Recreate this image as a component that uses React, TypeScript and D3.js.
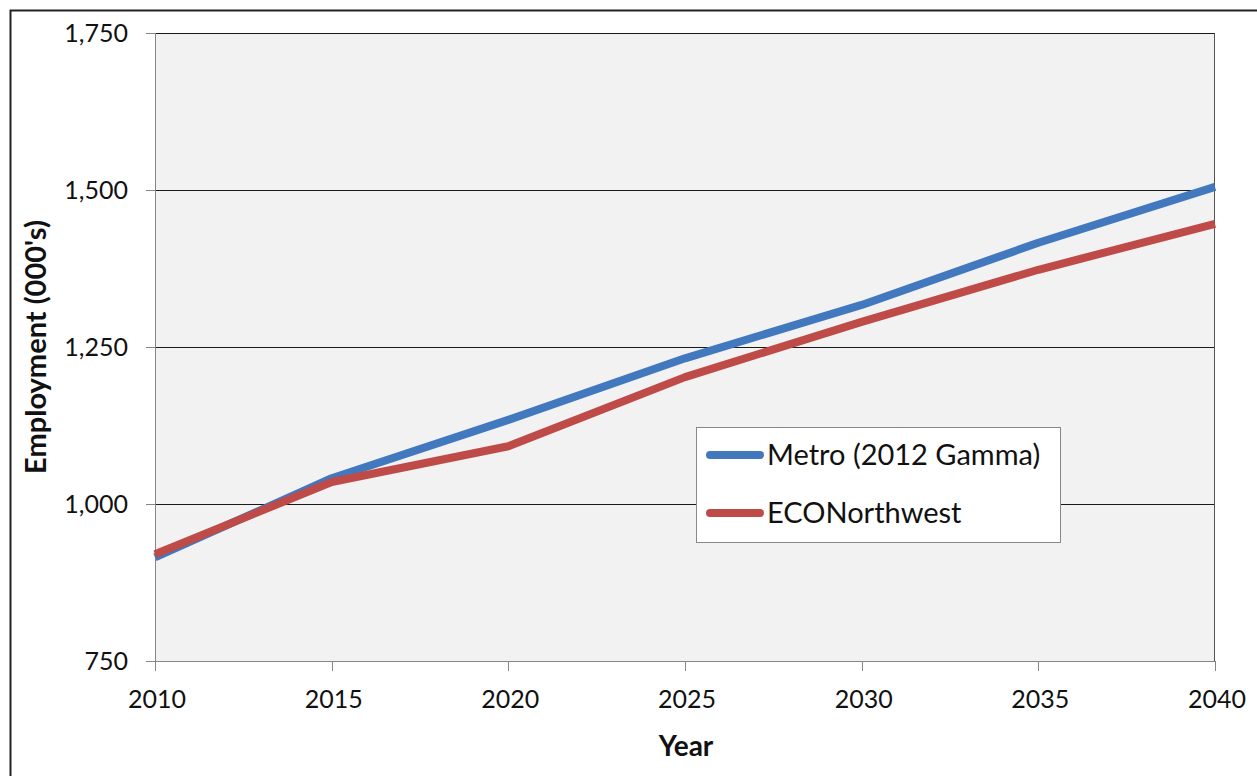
import React from "react";
import * as d3 from "d3";

const years = [2010, 2015, 2020, 2025, 2030, 2035, 2040];
const metro = [915, 1041, 1134, 1232, 1317, 1416, 1505];
const econw = [920, 1035, 1092, 1202, 1290, 1373, 1446];
const yTicks = [750, 1000, 1250, 1500, 1750];
const seriesNames = ["Metro (2012 Gamma)", "ECONorthwest"];
const seriesColors = ["#4178BE", "#BE4B48"];

const W = 1257, H = 776;
const left = 155, right = 1215, top = 33, bottom = 661;
const FONT = "Lato, 'Open Sans', sans-serif";

export default function App() {
  const x = d3.scaleLinear().domain([2010, 2040]).range([left, right]);
  const y = d3.scaleLinear().domain([750, 1750]).range([bottom, top]);
  const line = d3.line<number>().x((_, i) => x(years[i])).y((d) => y(d));
  const series = [metro, econw];
  return (
    <svg width={W} height={H} style={{ position: "absolute", left: 0, top: 0 }}>
      <rect x={0} y={0} width={W} height={H} fill="#fff" />
      <rect x={10.5} y={10.5} width={W + 20} height={H + 20} fill="none" stroke="#222" strokeWidth={2} />
      <rect x={left} y={top} width={right - left} height={bottom - top} fill="#F2F2F2" />
      {yTicks.slice(1).map((t) => (
        <line key={t} x1={left} x2={right} y1={Math.round(y(t)) + 0.5} y2={Math.round(y(t)) + 0.5} stroke="#1a1a1a" strokeWidth={1} />
      ))}
      <line x1={left + 0.5} x2={left + 0.5} y1={top} y2={bottom} stroke="#868686" />
      <line x1={right - 0.5} x2={right - 0.5} y1={top} y2={bottom} stroke="#555" />
      <line x1={left} x2={right} y1={bottom + 0.5} y2={bottom + 0.5} stroke="#868686" />
      {yTicks.map((t) => (
        <g key={t}>
          <line x1={left - 9} x2={left} y1={Math.round(y(t)) + 0.5} y2={Math.round(y(t)) + 0.5} stroke="#868686" />
          <text x={128} y={y(t)} dy="0.35em" textAnchor="end" fontFamily={FONT} fontSize={25} fill="#111">
            {d3.format(",")(t)}
          </text>
        </g>
      ))}
      {years.map((yr) => (
        <g key={yr}>
          <line x1={Math.round(x(yr)) + 0.5} x2={Math.round(x(yr)) + 0.5} y1={bottom} y2={bottom + 10} stroke="#868686" />
          <text x={x(yr) + 2} y={708} textAnchor="middle" fontFamily={FONT} fontSize={25} fill="#111">
            {yr}
          </text>
        </g>
      ))}
      {series.map((s, i) => (
        <path key={i} d={line(s) || ""} fill="none" stroke={seriesColors[i]} strokeWidth={8} strokeLinejoin="round" />
      ))}
      <text x={686} y={756} textAnchor="middle" fontFamily={FONT} fontSize={28} fontWeight="bold" fill="#111">
        Year
      </text>
      <text transform={`translate(46,${(top + bottom) / 2}) rotate(-90)`} textAnchor="middle" fontFamily={FONT} fontSize={29} fontWeight="bold" fill="#111">
        Employment (000's)
      </text>
      <rect x={696.5} y={427.5} width={364} height={115} fill="#fff" stroke="#888" />
      {seriesNames.map((n, i) => (
        <g key={n}>
          <line x1={710} x2={760} y1={455 + i * 58} y2={455 + i * 58} stroke={seriesColors[i]} strokeWidth={8} strokeLinecap="round" />
          <text x={767} y={455 + i * 58} dy="0.35em" fontFamily={FONT} fontSize={29} fill="#111">
            {n}
          </text>
        </g>
      ))}
    </svg>
  );
}
